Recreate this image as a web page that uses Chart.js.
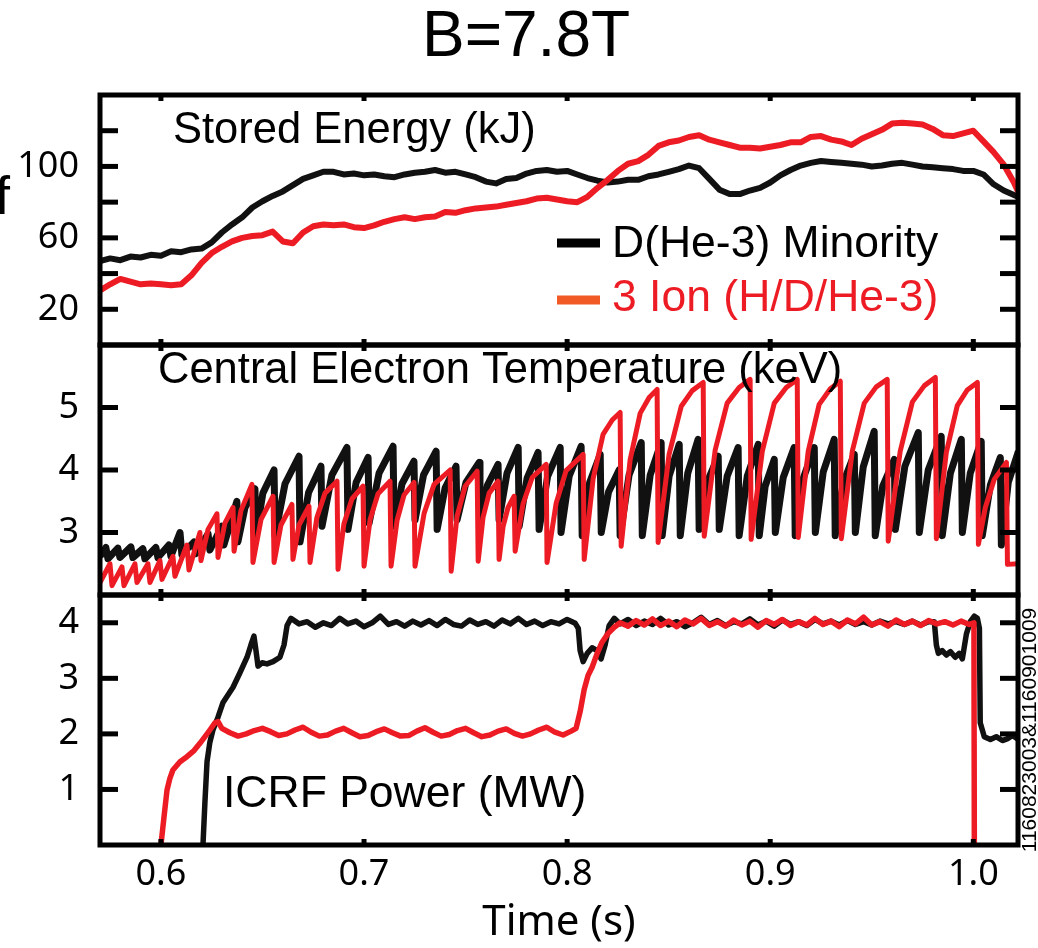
<!DOCTYPE html>
<html>
<head>
<meta charset="utf-8">
<title>B=7.8T</title>
<script src="https://cdn.jsdelivr.net/npm/chart.js@4.4.1/dist/chart.umd.min.js"></script>
<style>
  html, body { margin: 0; padding: 0; background: #fff; }
  #chart { display: block; }
</style>
</head>
<body>
<canvas id="chart" width="1038" height="948"></canvas>
<script>
// --- axis ticks ---
const timeTicks = [0.6, 0.7, 0.8, 0.9, 1.0];
const energyTicks = [20, 40, 60, 80, 100, 120];
const energyLabels = [20, 60, 100];
const teTicks = [3, 4, 5];
const powerTicks = [1, 2, 3, 4];

// --- stored energy (kJ) ---
const energyTime = [0.570,0.575,0.580,0.585,0.590,0.595,0.600,0.605,0.610,0.615,
  0.620,0.625,0.630,0.635,0.640,0.645,0.650,0.655,0.660,0.665,
  0.670,0.675,0.680,0.685,0.690,0.695,0.700,0.705,0.710,0.715,
  0.720,0.725,0.730,0.735,0.740,0.745,0.750,0.755,0.760,0.765,
  0.770,0.775,0.780,0.785,0.790,0.795,0.800,0.805,0.810,0.815,
  0.820,0.825,0.830,0.835,0.840,0.845,0.850,0.855,0.860,0.865,
  0.870,0.875,0.880,0.885,0.890,0.895,0.900,0.905,0.910,0.915,
  0.920,0.925,0.930,0.935,0.940,0.945,0.950,0.955,0.960,0.965,
  0.970,0.975,0.980,0.985,0.990,0.995,1.000,1.005,1.010,1.015,
  1.020,1.022];
const energyMinority = [47,48.5,47.5,49.5,49,50.5,50,52.5,52,53.5,
  54,57.5,63,67.5,71.5,77,80.5,83.5,86,89.5,
  93,95,97,97,95.5,96,95,95.5,94.5,94,
  95.5,96.5,97,98,96.5,97,95.5,94,91.5,90.5,
  93,93.5,96,97.5,98,97,97.5,95.5,93.5,92,
  91,91.5,92.5,92.5,94.5,95.5,97,98.5,100.5,99,
  93,87,84.5,84.5,86.5,88,91,95,98,100.5,
  102,103,102.5,102,101.5,101,100,100.5,101.5,102,
  101,100,99.5,99,98.5,97.5,97.5,95.5,90,86.5,
  84,83];
const energyThreeIon = [30.5,34,37,35.5,34,34.5,34,33.5,34,39,
  46,51.5,55,58,60,61,61.5,63.5,58,57,
  63,66.5,67.5,67,67.5,66,65.5,67,69,70.5,
  71.5,70.5,71.5,72,74.5,74,75.5,76.5,77,77.5,
  78.5,79.5,80.5,82,82.5,81.5,80.5,80,83,88,
  92.5,97.5,101.5,103,106.5,111.5,113.5,114.5,116.5,117.5,
  115,113.5,112,110.5,110.5,110,111,112,113.5,113.5,
  116.5,117,115,114,112,115.5,118,120.5,124,124.5,
  124,123.5,121,117.5,117,118.5,120,114,108,101,
  91,86];

// --- central electron temperature (keV), [time, value] ---
const teMinority = [[0.5700,2.62],[0.5729,2.76],[0.5739,2.58],[0.5788,2.75],[0.5798,2.6],[0.5852,2.77],[0.5862,2.6],
  [0.5911,2.74],[0.5921,2.58],[0.5975,2.76],[0.5985,2.6],[0.6039,2.8],[0.6049,2.62],[0.6094,3.0],[0.6103,2.65],
  [0.6163,2.85],[0.6172,2.66],[0.6232,2.98],[0.6241,2.72],[0.6300,3.1],[0.6310,2.8],[0.6374,3.5],[0.6379,2.85],
  [0.6414,3.4],[0.6463,3.7],[0.6468,2.95],[0.6502,3.63],[0.6557,4.0],[0.6562,2.95],[0.6611,3.78],[0.6680,4.22],
  [0.6685,2.85],[0.6727,3.64],[0.6788,4.06],[0.6793,3.1],[0.6842,3.92],[0.6916,4.36],[0.6921,3.05],[0.6961,3.8],
  [0.7020,4.2],[0.7025,3.15],[0.7074,3.95],[0.7143,4.38],[0.7148,3.1],[0.7187,3.78],[0.7246,4.14],[0.7251,3.2],
  [0.7293,3.92],[0.7355,4.3],[0.7360,3.05],[0.7399,3.71],[0.7453,4.06],[0.7458,3.2],[0.7502,3.8],[0.7567,4.12],
  [0.7571,3.15],[0.7608,3.76],[0.7660,4.09],[0.7665,3.2],[0.7704,3.95],[0.7759,4.36],[0.7764,3.1],[0.7803,3.87],
  [0.7857,4.28],[0.7862,3.05],[0.7904,3.9],[0.7966,4.36],[0.7970,3.0],[0.8010,3.9],[0.8069,4.38],[0.8074,2.95],
  [0.8111,3.8],[0.8163,4.25],[0.8168,3.0],[0.8204,3.65],[0.8256,4.0],[0.8261,2.95],[0.8305,3.92],[0.8365,4.44],
  [0.8370,2.95],[0.8409,3.92],[0.8463,4.44],[0.8468,2.95],[0.8502,3.9],[0.8552,4.41],[0.8557,2.95],[0.8594,3.95],
  [0.8645,4.49],[0.8650,3.05],[0.8690,3.81],[0.8744,4.22],[0.8749,3.05],[0.8788,3.9],[0.8842,4.36],[0.8847,2.95],
  [0.8887,3.9],[0.8941,4.41],[0.8946,2.95],[0.8975,3.74],[0.9020,4.17],[0.9025,3.0],[0.9064,3.88],[0.9118,4.36],
  [0.9123,2.95],[0.9163,3.87],[0.9217,4.36],[0.9222,3.0],[0.9261,3.97],[0.9315,4.49],[0.9320,2.95],[0.9360,3.8],
  [0.9414,4.25],[0.9419,3.0],[0.9458,4.05],[0.9512,4.62],[0.9517,2.95],[0.9554,3.74],[0.9611,4.17],[0.9616,3.05],
  [0.9663,4.06],[0.9729,4.6],[0.9734,3.0],[0.9778,4.0],[0.9842,4.54],[0.9847,2.95],[0.9887,3.95],[0.9941,4.49],
  [0.9946,3.0],[0.9985,3.95],[1.0039,4.46],[1.0044,2.95],[1.0084,3.76],[1.0133,4.2],[1.0138,2.8],[1.0172,3.8],
  [1.0222,4.3]];
const teThreeIon = [[0.5700,2.2],[0.5749,2.5],[0.5759,2.15],[0.5808,2.45],[0.5818,2.15],[0.5872,2.5],[0.5882,2.2],
  [0.5936,2.5],[0.5946,2.2],[0.5995,2.55],[0.6005,2.25],[0.6059,2.62],[0.6069,2.3],[0.6128,2.8],[0.6138,2.4],
  [0.6192,3.0],[0.6197,2.55],[0.6232,3.05],[0.6276,3.3],[0.6281,2.6],[0.6315,3.15],[0.6355,3.4],[0.6360,2.7],
  [0.6394,3.35],[0.6448,3.77],[0.6453,2.52],[0.6493,3.21],[0.6552,3.58],[0.6557,2.52],[0.6591,3.12],[0.6645,3.45],
  [0.6650,2.57],[0.6680,3.12],[0.6729,3.42],[0.6734,2.52],[0.6768,3.24],[0.6808,3.63],[0.6867,3.82],[0.6872,2.41],
  [0.6901,3.14],[0.6941,3.54],[0.6995,3.74],[0.7000,2.46],[0.7030,3.21],[0.7069,3.62],[0.7128,3.82],[0.7133,2.46],
  [0.7163,3.2],[0.7197,3.6],[0.7246,3.8],[0.7251,2.46],[0.7296,3.31],[0.7345,3.77],[0.7424,4.0],[0.7429,2.38],
  [0.7458,3.26],[0.7498,3.74],[0.7557,3.98],[0.7562,2.54],[0.7586,3.24],[0.7616,3.63],[0.7660,3.82],[0.7665,2.57],
  [0.7685,3.1],[0.7709,3.4],[0.7739,3.58],[0.7744,2.7],[0.7783,3.46],[0.7828,3.88],[0.7897,4.09],[0.7901,2.52],
  [0.7946,3.47],[0.7995,3.99],[0.8079,4.25],[0.8084,2.57],[0.8128,3.86],[0.8177,4.57],[0.8222,4.8],[0.8261,4.92],
  [0.8266,2.78],[0.8310,4.16],[0.8360,4.91],[0.8404,5.16],[0.8443,5.29],[0.8448,2.84],[0.8502,4.25],[0.8562,5.02],
  [0.8616,5.27],[0.8670,5.4],[0.8675,2.94],[0.8729,4.32],[0.8788,5.07],[0.8847,5.32],[0.8901,5.45],[0.8906,2.89],
  [0.8961,4.3],[0.9020,5.07],[0.9079,5.32],[0.9133,5.45],[0.9138,2.92],[0.9187,4.3],[0.9241,5.05],[0.9296,5.3],
  [0.9345,5.42],[0.9350,2.9],[0.9404,4.3],[0.9463,5.07],[0.9522,5.33],[0.9576,5.45],[0.9581,2.86],[0.9640,4.3],
  [0.9700,5.09],[0.9759,5.35],[0.9813,5.48],[0.9818,2.9],[0.9867,4.28],[0.9921,5.03],[0.9970,5.28],[1.0020,5.4],
  [1.0025,2.81],[1.0059,3.4],[1.0103,3.85],[1.0163,4.12],[1.0168,2.49],[1.0222,2.5]];

// --- ICRF power (MW), [time, value] ---
const powerMinority = [[0.6207,0],[0.6217,0.8],[0.6227,1.5],[0.6241,1.85],[0.6256,2.07],[0.6281,2.3],[0.6305,2.56],
  [0.6330,2.7],[0.6355,2.84],[0.6389,3.1],[0.6424,3.38],[0.6443,3.6],[0.6458,3.76],[0.6468,3.5],[0.6478,3.22],
  [0.6498,3.28],[0.6522,3.26],[0.6552,3.3],[0.6586,3.38],[0.6606,3.6],[0.6621,3.95],[0.6640,4.08],
  [0.668,3.98],[0.672,4.02],[0.676,3.92],[0.680,4.0],[0.684,3.95],[0.688,4.08],[0.692,3.98],[0.696,4.03],
  [0.700,3.93],[0.704,4.0],[0.708,4.12],[0.712,3.97],[0.716,4.02],[0.720,3.94],[0.724,4.03],[0.728,3.96],
  [0.732,4.04],[0.736,3.95],[0.740,4.06],[0.744,3.97],[0.748,3.94],[0.752,4.05],[0.756,3.97],[0.760,4.02],
  [0.764,3.94],[0.768,4.05],[0.772,3.98],[0.776,4.08],[0.780,3.97],[0.784,4.03],[0.788,3.95],[0.792,4.02],
  [0.796,3.98],[0.800,4.06],[0.804,3.99],
  [0.8055,3.9],[0.8064,3.5],[0.8079,3.3],[0.8099,3.45],[0.8123,3.55],[0.8148,3.5],[0.8167,3.35],[0.8187,3.6],
  [0.8207,3.95],[0.8232,4.08],[0.8261,3.98],
  [0.830,4.06],[0.834,3.95],[0.838,4.03],[0.842,3.97],[0.846,4.08],[0.850,3.96],[0.854,4.02],[0.858,3.93],
  [0.862,4.0],[0.866,4.1],[0.870,3.97],[0.874,4.04],[0.878,3.95],[0.882,4.02],[0.886,3.98],[0.890,4.07],
  [0.894,3.96],[0.898,4.03],[0.902,3.94],[0.906,4.05],[0.910,3.97],[0.914,4.02],[0.918,3.95],[0.922,4.06],
  [0.926,3.98],[0.930,4.03],[0.934,3.96],[0.938,4.04],[0.942,3.97],[0.946,4.02],[0.950,3.96],[0.954,4.03],
  [0.958,3.98],[0.962,4.02],[0.966,3.97],[0.970,4.03],[0.974,3.96],[0.978,4.02],
  [0.9808,4.02],[0.9818,3.6],[0.9828,3.45],[0.9847,3.5],[0.9867,3.42],[0.9887,3.48],[0.9911,3.38],[0.9931,3.45],
  [0.9946,3.35],[0.9966,3.8],[0.9985,4.02],[1.0005,4.12],[1.0020,4.08],[1.0030,3.9],[1.0034,2.2],[1.0054,1.95],
  [1.0084,1.9],[1.0113,1.95],[1.0143,1.88],[1.0172,1.92],[1.0192,1.97],[1.0222,1.9]];
const powerThreeIon = [[0.6000,0],[0.6015,0.5],[0.6030,0.99],[0.6044,1.2],[0.6059,1.35],[0.6094,1.5],[0.6128,1.59],
  [0.6163,1.7],[0.6192,1.83],[0.6217,1.95],[0.6241,2.07],[0.6266,2.2],[0.6281,2.22],[0.6300,2.1],
  [0.634,2.02],[0.638,1.96],[0.642,2.0],[0.646,2.06],[0.650,2.1],[0.654,2.04],[0.658,1.97],[0.662,2.0],
  [0.666,2.07],[0.670,2.12],[0.674,2.03],[0.678,1.96],[0.682,1.98],[0.686,2.05],[0.690,2.1],[0.694,2.02],
  [0.698,1.95],[0.702,1.97],[0.706,2.04],[0.710,2.09],[0.714,2.02],[0.718,1.96],[0.722,1.97],[0.726,2.05],
  [0.730,2.11],[0.734,2.03],[0.738,1.96],[0.742,1.99],[0.746,2.06],[0.750,2.1],[0.754,2.02],[0.758,1.95],
  [0.762,1.98],[0.766,2.05],[0.770,2.09],[0.774,2.01],[0.778,1.96],[0.782,2.0],[0.786,2.07],[0.790,2.12],
  [0.794,2.03],[0.798,1.98],[0.802,2.05],
  [0.8044,2.1],[0.8064,2.4],[0.8084,2.8],[0.8103,3.05],[0.8123,3.2],[0.8148,3.45],[0.8172,3.65],[0.8202,3.81],
  [0.8232,3.92],[0.8261,4.0],
  [0.830,3.94],[0.834,4.04],[0.838,3.96],[0.842,4.07],[0.846,3.95],[0.850,4.03],[0.854,3.93],[0.858,4.05],
  [0.862,3.98],[0.866,4.08],[0.870,3.95],[0.874,4.02],[0.878,3.94],[0.882,4.05],[0.886,3.96],[0.890,4.03],
  [0.894,3.92],[0.898,4.04],[0.902,3.97],[0.906,4.06],[0.910,3.95],[0.914,4.02],[0.918,3.96],[0.922,4.08],
  [0.926,3.97],[0.930,4.03],[0.934,3.93],[0.938,4.05],[0.942,3.98],[0.946,4.1],[0.950,3.96],[0.954,4.02],
  [0.958,3.94],[0.962,4.05],[0.966,3.97],[0.970,4.03],[0.974,3.95],[0.978,4.04],[0.982,3.98],[0.986,4.02],
  [0.990,3.96],[0.994,4.03],[0.998,3.97],[1.0003,4.0],[1.0005,0]];

const BLACK = '#111111';
const RED = '#ed1c24';
const ORANGE = '#f15a24';
const TICK_FONT = { family: 'Noto Sans', size: 36 };

const xy = (ts, vs) => ts.map((t, i) => ({ x: t, y: vs[i] }));
const pairs = arr => arr.map(p => ({ x: p[0], y: p[1] }));

// рамкалар, ішкі белгілер және мәтіндер
const panelPlugin = {
    id: 'panels',
    afterDraw(chart) {
        const { ctx, chartArea: a, scales } = chart;
        const seg = (x1, y1, x2, y2) => { ctx.beginPath(); ctx.moveTo(x1, y1); ctx.lineTo(x2, y2); ctx.stroke(); };
        ctx.save();
        ctx.strokeStyle = '#000';
        ctx.lineWidth = 5;
        [['yW', energyTicks], ['yT', teTicks], ['yP', powerTicks]].forEach(([id, ticks]) => {
            const s = scales[id];
            ctx.strokeRect(a.left, s.top, a.right - a.left, s.bottom - s.top);
            ticks.forEach(v => {
                const y = s.getPixelForValue(v);
                seg(a.left, y, a.left + 18, y);
                seg(a.right - 18, y, a.right, y);
            });
            timeTicks.forEach(v => {
                const x = scales.x.getPixelForValue(v);
                seg(x, s.top, x, s.top + 6);
                seg(x, s.bottom - 6, x, s.bottom);
            });
        });

        const text = (str, x, y, size, color, align) => {
            ctx.font = size + 'px "Liberation Sans", Arial, sans-serif';
            ctx.fillStyle = color;
            ctx.textAlign = align || 'left';
            ctx.textBaseline = 'alphabetic';
            ctx.fillText(str, x, y);
        };
        text('B=7.8T', 526, 56, 64, '#000', 'center');
        text('f', -5, 214, 54, '#000');
        text('Stored Energy (kJ)', 173, 143, 43.5, '#000');
        text('Central Electron Temperature (keV)', 158, 383, 43.5, '#000');
        text('ICRF Power (MW)', 223, 807, 44.5, '#000');

        // legend
        ctx.lineWidth = 9;
        ctx.strokeStyle = '#000';
        seg(557, 243, 600, 243);
        ctx.strokeStyle = ORANGE;
        seg(557, 300, 600, 300);
        text('D(He-3) Minority', 612, 257, 44.5, '#000');
        text('3 Ion (H/D/He-3)', 612, 311, 44.5, RED);

        // shot numbers
        ctx.save();
        ctx.translate(1029, 730);
        ctx.rotate(-Math.PI / 2);
        text('1160823003&1160901009', 0, 7, 21, '#000', 'center');
        ctx.restore();
        ctx.restore();
    }
};

const yAxis = (min, max, labels) => ({
    type: 'linear',
    position: 'left',
    stack: 'panels',
    stackWeight: 1,
    min: min,
    max: max,
    afterBuildTicks: s => { s.ticks = labels.map(v => ({ value: v })); },
    afterFit: s => { s.width = 100; },
    grid: { display: false, drawTicks: false },
    border: { display: false },
    ticks: { font: TICK_FONT, color: '#000', padding: 21 }
});

new Chart(document.getElementById('chart'), {
    type: 'line',
    data: {
        datasets: [
            { label: '3 Ion (H/D/He-3)', data: xy(energyTime, energyThreeIon), yAxisID: 'yW', borderColor: RED, borderWidth: 6, order: 1 },
            { label: 'D(He-3) Minority', data: xy(energyTime, energyMinority), yAxisID: 'yW', borderColor: BLACK, borderWidth: 6, order: 2 },
            { label: '3 Ion (H/D/He-3)', data: pairs(teThreeIon), yAxisID: 'yT', borderColor: RED, borderWidth: 5, order: 1 },
            { label: 'D(He-3) Minority', data: pairs(teMinority), yAxisID: 'yT', borderColor: BLACK, borderWidth: 7, order: 2 },
            { label: '3 Ion (H/D/He-3)', data: pairs(powerThreeIon), yAxisID: 'yP', borderColor: RED, borderWidth: 5.5, order: 1 },
            { label: 'D(He-3) Minority', data: pairs(powerMinority), yAxisID: 'yP', borderColor: BLACK, borderWidth: 5.5, order: 2 }
        ]
    },
    options: {
        responsive: false,
        animation: false,
        layout: { padding: { top: 95, right: 20, left: 0, bottom: 0 } },
        elements: {
            point: { radius: 0 },
            line: { tension: 0, fill: false, borderJoinStyle: 'round', borderCapStyle: 'butt' }
        },
        plugins: {
            legend: { display: false },
            tooltip: { enabled: false }
        },
        scales: {
            x: {
                type: 'linear',
                position: 'bottom',
                min: 0.57,
                max: 1.022,
                afterBuildTicks: s => { s.ticks = timeTicks.map(v => ({ value: v })); },
                afterFit: s => { s.height = 103; },
                grid: { display: false, drawTicks: false },
                border: { display: false },
                ticks: {
                    font: { family: 'Noto Sans', size: 36 }, color: '#000', padding: 8,
                    maxRotation: 0, autoSkip: false,
                    callback: v => v.toFixed(1)
                },
                title: {
                    display: true, text: 'Time (s)', color: '#000',
                    font: { family: 'Noto Sans', size: 42 },
                    padding: { top: 0, bottom: 0 }
                }
            },
            // соңғысы жоғарыда орналасады
            yP: yAxis(0, 4.5, powerTicks),
            yT: yAxis(2, 6, teTicks),
            yW: yAxis(0, 140, energyLabels)
        }
    },
    plugins: [panelPlugin]
});
</script>
</body>
</html>
